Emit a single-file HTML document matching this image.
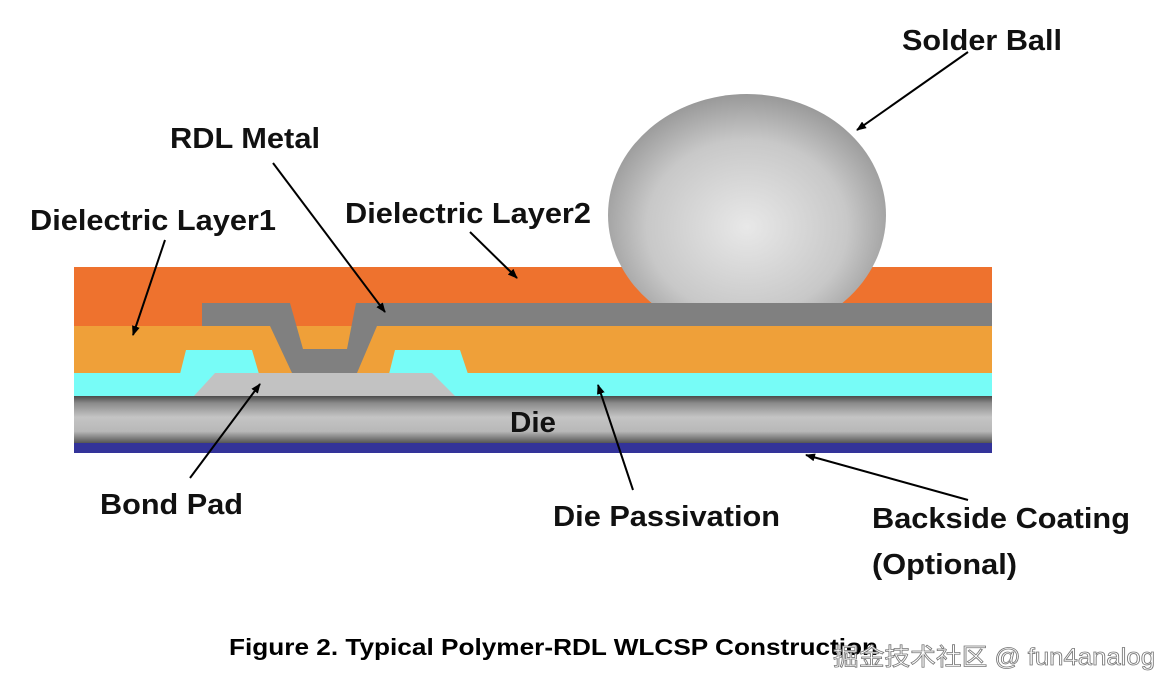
<!DOCTYPE html>
<html><head><meta charset="utf-8"><style>html,body{margin:0;padding:0;background:#fff;width:1174px;height:692px;overflow:hidden}</style></head>
<body>
<svg width="1174" height="692" viewBox="0 0 1174 692" xmlns="http://www.w3.org/2000/svg" font-family="Liberation Sans, Arial, sans-serif" font-weight="bold">
<defs>
<linearGradient id="die" x1="0" y1="0" x2="0" y2="1">
<stop offset="0" stop-color="#4a4a4a"/><stop offset="0.15" stop-color="#8a8a8a"/><stop offset="0.45" stop-color="#c4c4c4"/><stop offset="0.75" stop-color="#b8b8b8"/><stop offset="1" stop-color="#555"/>
</linearGradient>
<radialGradient id="ball" cx="0.5" cy="0.55" r="0.6">
<stop offset="0" stop-color="#e8e8e8"/><stop offset="0.6" stop-color="#c8c8c8"/><stop offset="1" stop-color="#8c8c8c"/>
</radialGradient>
<marker id="ah" markerWidth="10" markerHeight="8" refX="9" refY="4" orient="auto" markerUnits="userSpaceOnUse"><path d="M0,0 L10,4 L0,8 z" fill="#000"/></marker>
<clipPath id="ballclip"><rect x="0" y="0" width="1174" height="303"/></clipPath>
</defs>
<rect x="74" y="267" width="918" height="60" fill="#ee722e"/>
<rect x="74" y="326" width="918" height="48" fill="#efa039"/>
<rect x="74" y="373" width="918" height="24" fill="#77fcf7"/>
<polygon points="180,374 186,350 252,350 259,374" fill="#77fcf7"/>
<polygon points="389,374 395,350 460,350 468,374" fill="#77fcf7"/>
<polygon points="193,397 215,373 432,373 456,397" fill="#c2c2c2"/>
<polygon points="202,303 290,303 303,349 347,349 356,303 992,303 992,326 377,326 357,373 292,373 270,326 202,326" fill="#808080"/>
<rect x="74" y="396" width="918" height="47" fill="url(#die)"/>
<rect x="74" y="443" width="918" height="10" fill="#333399"/>
<ellipse cx="747" cy="215" rx="139" ry="121" fill="url(#ball)" clip-path="url(#ballclip)"/>
<g stroke="#000" stroke-width="2" fill="none" marker-end="url(#ah)">
<line x1="968" y1="52" x2="857" y2="130"/>
<line x1="273" y1="163" x2="385" y2="312"/>
<line x1="165" y1="240" x2="133" y2="335"/>
<line x1="470" y1="232" x2="517" y2="278"/>
<line x1="190" y1="478" x2="260" y2="384"/>
<line x1="633" y1="490" x2="598" y2="385"/>
<line x1="968" y1="500" x2="806" y2="455"/>
</g>
<g font-size="29" fill="#111" lengthAdjust="spacingAndGlyphs">
<text x="902" y="50" textLength="160" lengthAdjust="spacingAndGlyphs">Solder Ball</text>
<text x="170" y="148" textLength="150" lengthAdjust="spacingAndGlyphs">RDL Metal</text>
<text x="30" y="230" textLength="246" lengthAdjust="spacingAndGlyphs">Dielectric Layer1</text>
<text x="345" y="223" textLength="246" lengthAdjust="spacingAndGlyphs">Dielectric Layer2</text>
<text x="510" y="432" textLength="46" lengthAdjust="spacingAndGlyphs">Die</text>
<text x="100" y="514" textLength="143" lengthAdjust="spacingAndGlyphs">Bond Pad</text>
<text x="553" y="526" textLength="227" lengthAdjust="spacingAndGlyphs">Die Passivation</text>
<text x="872" y="528" textLength="258" lengthAdjust="spacingAndGlyphs">Backside Coating</text>
<text x="872" y="574" textLength="145" lengthAdjust="spacingAndGlyphs">(Optional)</text>
</g>
<text x="229" y="655" font-size="23" fill="#000" textLength="649" lengthAdjust="spacingAndGlyphs">Figure 2. Typical Polymer-RDL WLCSP Construction</text>
<text x="833" y="665" font-size="24" font-weight="normal" font-family="Liberation Sans, Noto Sans CJK SC, sans-serif" fill="#fff" stroke="#777" stroke-width="0.8" textLength="322" lengthAdjust="spacingAndGlyphs">掘金技术社区 @ fun4analog</text>
</svg>
</body></html>
